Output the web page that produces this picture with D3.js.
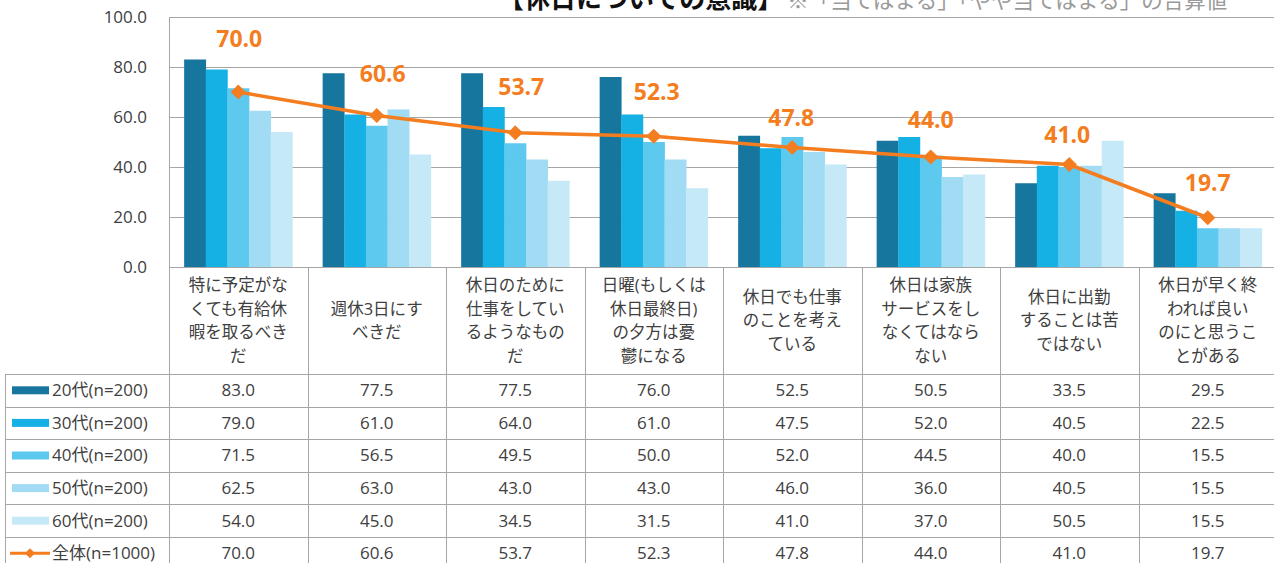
<!DOCTYPE html>
<html>
<head>
<meta charset="utf-8">
<script src="https://cdn.jsdelivr.net/npm/d3@7"></script>
<style>
  body { margin: 0; background: #fff; }
  svg { display: block; font-family: "Open Sans", "Noto Sans CJK JP", sans-serif; }
</style>
</head>
<body>
<div id="chart"></div>
<script>
// chart data
const categories = [
    ["特に予定がな", "くても有給休", "暇を取るべき", "だ"],
    ["週休3日にす", "べきだ"],
    ["休日のために", "仕事をしてい", "るようなもの", "だ"],
    ["日曜(もしくは", "休日最終日)", "の夕方は憂", "鬱になる"],
    ["休日でも仕事", "のことを考え", "ている"],
    ["休日は家族", "サービスをし", "なくてはなら", "ない"],
    ["休日に出勤", "することは苦", "ではない"],
    ["休日が早く終", "われば良い", "のにと思うこ", "とがある"]
]
const seriesNames = ["20代(n=200)", "30代(n=200)", "40代(n=200)", "50代(n=200)", "60代(n=200)"]
const totalName = "全体(n=1000)"
const s20 = [83.0, 77.5, 77.5, 76.0, 52.5, 50.5, 33.5, 29.5]
const s30 = [79.0, 61.0, 64.0, 61.0, 47.5, 52.0, 40.5, 22.5]
const s40 = [71.5, 56.5, 49.5, 50.0, 52.0, 44.5, 40.0, 15.5]
const s50 = [62.5, 63.0, 43.0, 43.0, 46.0, 36.0, 40.5, 15.5]
const s60 = [54.0, 45.0, 34.5, 31.5, 41.0, 37.0, 50.5, 15.5]
const total = [70.0, 60.6, 53.7, 52.3, 47.8, 44.0, 41.0, 19.7]
const yTicks = [0, 20, 40, 60, 80, 100]

const seriesValues = [s20, s30, s40, s50, s60]
const colors = ["#17769e", "#15b1e5", "#5ec9ef", "#a1dcf4", "#c6e9f8"]
const orange = "#f47d20"
const gridColor = "#a6a6a6"
const textColor = "#404040"

// label offsets for the orange value labels (placed by hand in the original)
const labelDy = [-53, -42, -46, -44, -30, -37, -30, -35]
const labelDx = [1, 6, 6, 3, -1, 0, -2, 0]

const width = 1274, height = 563
const plotLeft = 169, plotTop = 17, plotBottom = 267
const colW = 138.5
const tableLeft = 5, headerBottom = 374, rowH = 32.6

let svg = d3.select("#chart").append("svg")
    .attr("width", width)
    .attr("height", height)

let x0 = d3.scaleBand()
    .domain(d3.range(categories.length))
    .range([plotLeft, plotLeft + colW * categories.length])
    .padding(0)

let x1 = d3.scaleBand()
    .domain(seriesNames)
    .range([0, x0.bandwidth()])
    .paddingInner(0)
    .paddingOuter(0.7)

let y = d3.scaleLinear()
    .domain([0, 100])
    .range([plotBottom, plotTop])

// title (partly above the top edge, like the reference)
let title = svg.append("text")
    .attr("x", 498)
    .attr("y", 8)
title.append("tspan")
    .attr("font-size", 26)
    .attr("font-weight", "bold")
    .attr("fill", "#111")
    .text("【休日についての意識】")
title.append("tspan")
    .attr("font-size", 21.5)
    .attr("fill", "#9a9a9a")
    .attr("dx", 4)
    .text("※「当てはまる」「やや当てはまる」の合算値")

// gridlines
svg.append("g")
    .selectAll("line")
    .data(yTicks)
    .enter().append("line")
    .attr("x1", plotLeft)
    .attr("x2", width)
    .attr("y1", d => Math.round(y(d)) + 0.5)
    .attr("y2", d => Math.round(y(d)) + 0.5)
    .attr("stroke", gridColor)
    .attr("stroke-width", 1)

// y tick labels
svg.append("g")
    .selectAll("text")
    .data(yTicks)
    .enter().append("text")
    .attr("x", 147)
    .attr("y", d => y(d))
    .attr("dy", "0.35em")
    .attr("text-anchor", "end")
    .attr("font-size", 17)
    .attr("fill", textColor)
    .text(d => d.toFixed(1))

// bars
let groups = svg.append("g")
    .selectAll("g")
    .data(categories.map((c, i) => i))
    .enter().append("g")
    .attr("transform", i => "translate(" + x0(i) + ",0)")

groups.selectAll("rect")
    .data(i => seriesNames.map((name, k) => ({ name: name, k: k, value: seriesValues[k][i] })))
    .enter().append("rect")
    .attr("x", d => x1(d.name))
    .attr("width", x1.bandwidth() + 0.3)
    .attr("y", d => y(d.value))
    .attr("height", d => y(0) - y(d.value))
    .attr("fill", d => colors[d.k])

// total line
let cx = i => x0(i) + x0.bandwidth() / 2
let line = d3.line()
    .x((d, i) => cx(i))
    .y(d => y(d))

svg.append("path")
    .datum(total)
    .attr("d", line)
    .attr("fill", "none")
    .attr("stroke", orange)
    .attr("stroke-width", 3.5)
    .attr("stroke-linejoin", "round")

let diamond = d3.symbol().type(d3.symbolSquare).size(115)
svg.append("g")
    .selectAll("path")
    .data(total)
    .enter().append("path")
    .attr("d", diamond)
    .attr("transform", (d, i) => "translate(" + cx(i) + "," + y(d) + ") rotate(45)")
    .attr("fill", orange)

// value labels
svg.append("g")
    .selectAll("text")
    .data(total)
    .enter().append("text")
    .attr("x", (d, i) => cx(i) + labelDx[i])
    .attr("y", (d, i) => y(d) + labelDy[i])
    .attr("dy", "0.35em")
    .attr("text-anchor", "middle")
    .attr("font-size", 23)
    .attr("font-weight", "bold")
    .attr("fill", orange)
    .text(d => d.toFixed(1))

// table
let table = svg.append("g")
let nRows = seriesNames.length + 1
let tableBottom = headerBottom + rowH * nRows

// vertical lines between columns
let vx = d3.range(categories.length + 1).map(i => plotLeft + i * colW)
table.selectAll(".vline")
    .data(vx)
    .enter().append("line")
    .attr("class", "vline")
    .attr("x1", d => Math.round(d) + 0.5)
    .attr("x2", d => Math.round(d) + 0.5)
    .attr("y1", (d, i) => i == 0 ? plotTop : plotBottom)
    .attr("y2", tableBottom)
    .attr("stroke", gridColor)

table.append("line")
    .attr("x1", tableLeft + 0.5)
    .attr("x2", tableLeft + 0.5)
    .attr("y1", headerBottom)
    .attr("y2", tableBottom)
    .attr("stroke", gridColor)

table.selectAll(".hline")
    .data(d3.range(nRows + 1))
    .enter().append("line")
    .attr("class", "hline")
    .attr("x1", tableLeft)
    .attr("x2", width)
    .attr("y1", r => Math.round(headerBottom + r * rowH) + 0.5)
    .attr("y2", r => Math.round(headerBottom + r * rowH) + 0.5)
    .attr("stroke", gridColor)

// category labels in the header cells
let lineH = 23.5
let headerMid = (plotBottom + headerBottom) / 2
categories.forEach((lines, i) => {
    let t = table.append("text")
        .attr("text-anchor", "middle")
        .attr("font-size", 16.5)
        .attr("fill", textColor)
    lines.forEach((s, j) => {
        t.append("tspan")
            .attr("x", cx(i))
            .attr("y", headerMid + (j - (lines.length - 1) / 2) * lineH)
            .attr("dy", "0.35em")
            .text(s)
    })
})

// legend column + values
let rows = seriesValues.concat([total])
let rowNames = seriesNames.concat([totalName])
rows.forEach((vals, r) => {
    let ry = headerBottom + r * rowH + rowH / 2
    if (r < seriesNames.length) {
        table.append("rect")
            .attr("x", 12)
            .attr("y", ry - 4)
            .attr("width", 37)
            .attr("height", 8)
            .attr("fill", colors[r])
    } else {
        table.append("line")
            .attr("x1", 10).attr("x2", 50)
            .attr("y1", ry).attr("y2", ry)
            .attr("stroke", orange)
            .attr("stroke-width", 3)
        table.append("path")
            .attr("d", d3.symbol().type(d3.symbolSquare).size(50))
            .attr("transform", "translate(30," + ry + ") rotate(45)")
            .attr("fill", orange)
    }
    table.append("text")
        .attr("x", 52)
        .attr("y", ry)
        .attr("dy", "0.35em")
        .attr("font-size", 17)
        .attr("fill", textColor)
        .text(rowNames[r])

    table.selectAll(null)
        .data(vals)
        .enter().append("text")
        .attr("x", (d, i) => cx(i))
        .attr("y", ry)
        .attr("dy", "0.35em")
        .attr("text-anchor", "middle")
        .attr("font-size", 17)
        .attr("fill", textColor)
        .text(d => d.toFixed(1))
})
</script>
</body>
</html>
